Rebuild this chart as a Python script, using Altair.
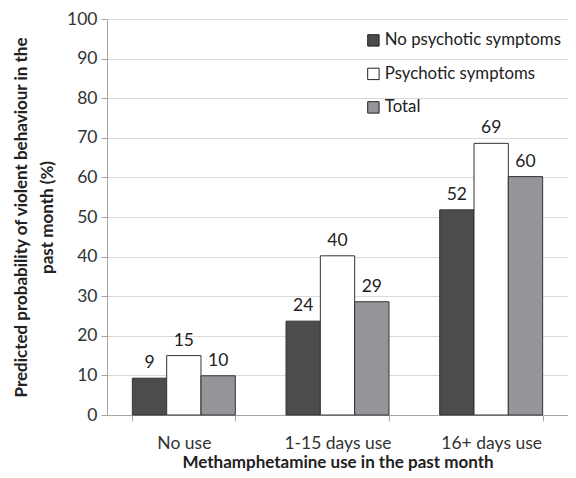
import altair as alt
import pandas as pd

categories = ["No use", "1-15 days use", "16+ days use"]
series = ["No psychotic symptoms", "Psychotic symptoms", "Total"]
no_psychotic = [9.3, 23.7, 51.8]
psychotic = [15.0, 40.2, 68.6]
total = [9.9, 28.6, 60.2]
colors = ["#4b4c4e", "#ffffff", "#939598"]
y_ticks = [0, 10, 20, 30, 40, 50, 60, 70, 80, 90, 100]

rows = []
for i, c in enumerate(categories):
    for s, vals in zip(series, [no_psychotic, psychotic, total]):
        rows.append({"cat": c, "series": s, "value": vals[i]})
df = pd.DataFrame(rows)

FONT = "Lato"
FS = 17.5

x = alt.X("cat:N", sort=categories, scale=alt.Scale(paddingInner=0.33, paddingOuter=0.165),
          axis=alt.Axis(title="Methamphetamine use in the past month", labelAngle=0,
                        tickBand="extent", tickSize=6, tickColor="#a6a6a6",
                        domainColor="#a6a6a6", labelPadding=13, titlePadding=3))
xo = alt.XOffset("series:N", sort=series, scale=alt.Scale(paddingInner=0, paddingOuter=0))
y = alt.Y("value:Q", scale=alt.Scale(domain=[0, 100], nice=False),
          axis=alt.Axis(title=["Predicted probability of violent behaviour in the", "past month (%)"],
                        values=y_ticks, tickCount=20, labelOverlap=False,
                        tickSize=6, tickColor="#a6a6a6", titleLineHeight=26,
                        domainColor="#a6a6a6", gridColor="#d9d9d9", labelPadding=4, titlePadding=10))

bars = alt.Chart(df).mark_bar(stroke="#333333", strokeWidth=1).encode(
    x=x, xOffset=xo, y=y,
    fill=alt.Fill("series:N", sort=series, scale=alt.Scale(domain=series, range=colors),
                  legend=alt.Legend(title=None, orient="none", legendX=258, legendY=13,
                                    symbolType="square", symbolSize=130, symbolStrokeColor="#222222",
                                    symbolStrokeWidth=1, labelFontSize=16.8, labelColor="#222222",
                                    labelFont=FONT, rowPadding=15.5, padding=0, labelOffset=3,
                                    labelLimit=400)),
)

labels = alt.Chart(df).mark_text(baseline="bottom", dy=-6, fontSize=FS, font=FONT, color="#222222").encode(
    x=x, xOffset=xo, y=y,
    text=alt.Text("value:Q", format=".0f"),
)

chart = alt.layer(bars, labels).properties(
    width=461, height=396,
    autosize=alt.AutoSizeParams(type="none"),
    padding={"left": 99, "top": 11, "right": 0, "bottom": 59},
).configure_axis(
    labelFont=FONT, titleFont=FONT, labelFontSize=FS, titleFontSize=17,
    labelColor="#333333", titleColor="#222222", titleFontWeight="bold",
).configure_axisX(grid=False).configure_view(stroke=None)

chart.save("out.html", embed_options={"renderer": "svg", "actions": False})
